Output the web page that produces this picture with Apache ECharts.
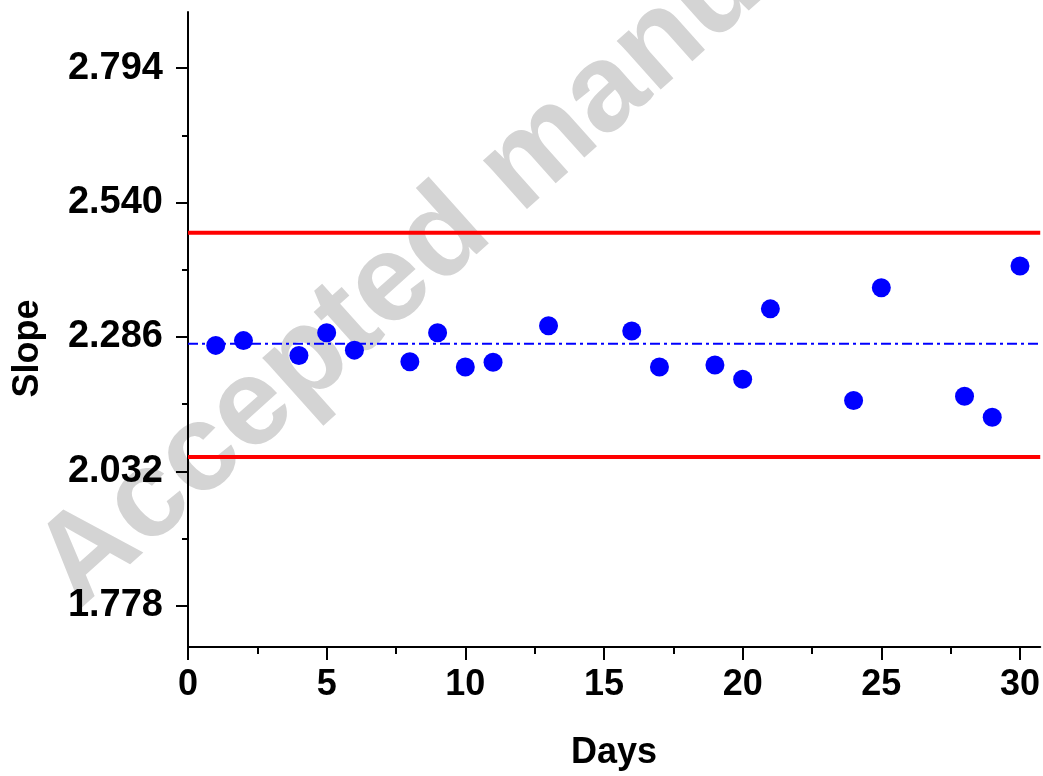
<!DOCTYPE html>
<html>
<head>
<meta charset="utf-8">
<script src="https://cdn.jsdelivr.net/npm/echarts@6/dist/echarts.min.js"></script>
<style>
  html, body { margin: 0; padding: 0; background: #fff; overflow: hidden; }
  #chart { width: 1043px; height: 776px; }
</style>
</head>
<body>
<div id="chart"></div>
<script>
const days = [1, 2, 4, 5, 6, 8, 9, 10, 11, 13, 16, 17, 19, 20, 21, 24, 25, 28, 29, 30]
const slope = [2.270, 2.279, 2.251, 2.294, 2.261, 2.239, 2.294, 2.229, 2.238, 2.307,
  2.297, 2.229, 2.233, 2.206, 2.339, 2.166, 2.379, 2.174, 2.134, 2.420]
const upperLimit = 2.483
const lowerLimit = 2.059
const centerLine = 2.273

const yTicks = [1.778, 2.032, 2.286, 2.540, 2.794]
const yMinorTicks = [1.905, 2.159, 2.413, 2.667]
const xTicks = [0, 5, 10, 15, 20, 25, 30]
const xMinorTicks = [2.5, 7.5, 12.5, 17.5, 22.5, 27.5]
const xMin = 0, xMax = 30.73
const yMin = 1.70, yMax = 2.90

const font = 'Liberation Sans, Arial, sans-serif'
const chart = echarts.init(document.getElementById('chart'))

const hline = (v) => [[xMin, v], [xMax, v]]

chart.setOption({
  animation: false,
  backgroundColor: '#fff',
  grid: { left: 188, top: 12, right: 0, bottom: 129, containLabel: false },
  graphic: [{
    type: 'text',
    x: 526,
    y: 164,
    rotation: 0.73,
    z: -10,
    silent: true,
    style: {
      text: 'Accepted manuscript',
      font: 'bold 124px ' + font,
      fill: '#d4d4d4',
      align: 'center',
      verticalAlign: 'middle'
    }
  }],
  xAxis: [{
    type: 'value',
    min: xMin,
    max: xMax,
    name: 'Days',
    nameLocation: 'middle',
    nameGap: 88,
    nameTextStyle: { fontFamily: font, fontWeight: 'bold', fontSize: 36, color: '#000' },
    axisLine: { show: true, onZero: false, lineStyle: { color: '#000', width: 2 } },
    axisTick: { show: true, length: 13, customValues: xTicks, lineStyle: { color: '#000', width: 2 } },
    axisLabel: { customValues: xTicks, margin: 20, fontFamily: font, fontWeight: 'bold', fontSize: 36, color: '#000' },
    splitLine: { show: false }
  }, {
    type: 'value',
    min: xMin,
    max: xMax,
    position: 'bottom',
    axisLine: { show: false },
    axisTick: { show: true, length: 7, customValues: xMinorTicks, lineStyle: { color: '#000', width: 2 } },
    axisLabel: { show: false },
    splitLine: { show: false }
  }],
  yAxis: [{
    type: 'value',
    min: yMin,
    max: yMax,
    name: 'Slope',
    nameLocation: 'middle',
    nameGap: 142,
    nameTextStyle: { fontFamily: font, fontWeight: 'bold', fontSize: 36, color: '#000', padding: [0, 38, 0, 0] },
    axisLine: { show: true, onZero: false, lineStyle: { color: '#000', width: 2 } },
    axisTick: { show: true, length: 12, customValues: yTicks, lineStyle: { color: '#000', width: 2 } },
    axisLabel: {
      customValues: yTicks, margin: 25, fontFamily: font, fontWeight: 'bold', fontSize: 38, color: '#000',
      formatter: (v) => v.toFixed(3)
    },
    splitLine: { show: false }
  }, {
    type: 'value',
    min: yMin,
    max: yMax,
    position: 'left',
    axisLine: { show: false },
    axisTick: { show: true, length: 6, customValues: yMinorTicks, lineStyle: { color: '#000', width: 2 } },
    axisLabel: { show: false },
    splitLine: { show: false }
  }],
  series: [{
    name: 'UCL',
    type: 'line',
    data: hline(upperLimit),
    symbol: 'none',
    lineStyle: { color: '#ff0000', width: 4 },
    z: 3
  }, {
    name: 'LCL',
    type: 'line',
    data: hline(lowerLimit),
    symbol: 'none',
    lineStyle: { color: '#ff0000', width: 4 },
    z: 3
  }, {
    name: 'Mean',
    type: 'line',
    data: hline(centerLine),
    symbol: 'none',
    lineStyle: { color: '#0000ff', width: 2, type: [10, 4, 3, 4] },
    z: 3
  }, {
    name: 'Slope',
    type: 'scatter',
    data: days.map((d, i) => [d, slope[i]]),
    symbol: 'circle',
    symbolSize: 19,
    itemStyle: { color: '#0000ff', opacity: 1 },
    z: 4
  }]
})
</script>
</body>
</html>
